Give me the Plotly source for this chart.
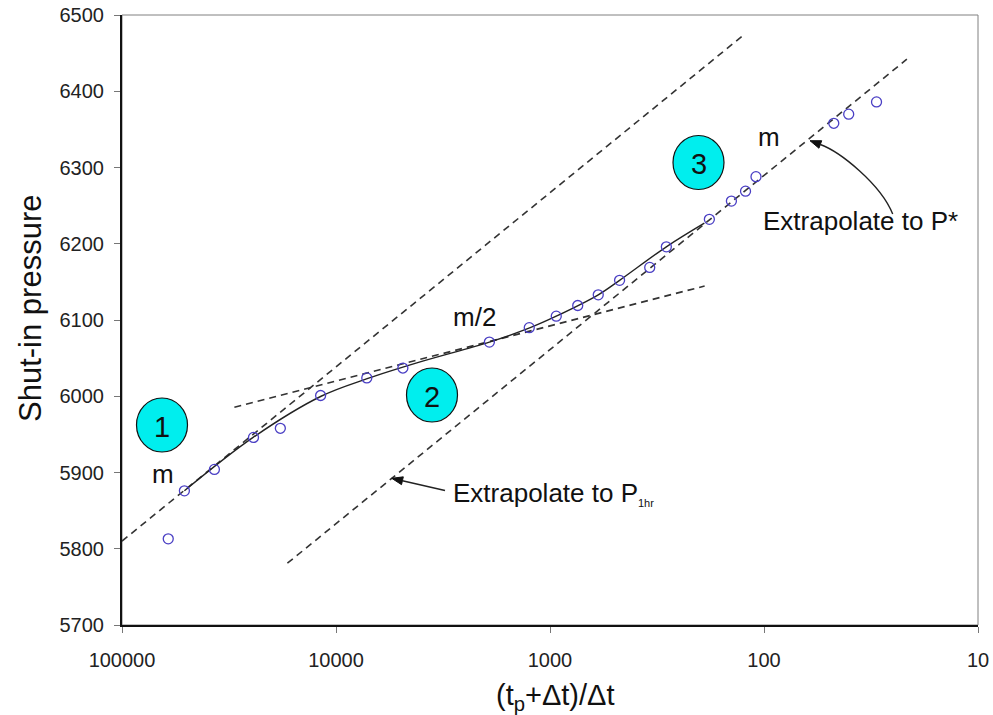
import plotly.graph_objects as go
import math

# ---------------- data ----------------
ratio = [60800, 51100, 37000, 24300, 18200, 11800, 7180, 4870, 1920, 1250, 935, 742,
         595, 473, 342, 286, 180, 142, 122, 109, 47.2, 40.2, 29.8]
pressure = [5813, 5876, 5904, 5946, 5958, 6001, 6024, 6037, 6071, 6090, 6105, 6119,
            6133, 6152, 6169, 6196, 6232, 6256, 6269, 6288, 6358, 6370, 6386]

# smooth fitted curve through the buildup data
curve_x = [51100, 24400, 11740, 7150, 4044, 1920, 1237, 935, 595, 473, 286, 190]
curve_y = [5876, 5946, 6000, 6023, 6045, 6071, 6090, 6105, 6133, 6152, 6196, 6227]

# straight-line extrapolations (dashed)
early_x = [100000, 124.2]
early_y = [5810, 6474]
mhalf_x = [29840, 189.4]
mhalf_y = [5985.5, 6144.6]
late_x = [16870, 21.5]
late_y = [5781, 6442]

x_ticks = [100000, 10000, 1000, 100, 10]
x_tick_text = ["100000", "10000", "1000", "100", "10"]
y_ticks = [5700, 5800, 5900, 6000, 6100, 6200, 6300, 6400, 6500]

# ---------------- layout helpers ----------------
W, H = 993, 715
ML, MR, MT, MB = 122, 15, 15, 90
PW, PH = W - ML - MR, H - MT - MB


def P(px, py):
    return (px - ML) / PW, (H - MB - py) / PH


FONT = "Arial, Liberation Sans, sans-serif"
DASH = "7px,5px"

fig = go.Figure()

for xs, ys in [(early_x, early_y), (mhalf_x, mhalf_y), (late_x, late_y)]:
    fig.add_trace(go.Scatter(x=xs, y=ys, mode="lines",
                             line=dict(color="#333333", width=1.6, dash=DASH),
                             hoverinfo="skip", showlegend=False))

fig.add_trace(go.Scatter(x=curve_x, y=curve_y, mode="lines",
                         line=dict(color="#222222", width=1.4, shape="spline", smoothing=1.0),
                         hoverinfo="skip", showlegend=False))

fig.add_trace(go.Scatter(x=ratio, y=pressure, mode="markers",
                         marker=dict(symbol="circle-open", size=10, color="#4a3fc4",
                                     line=dict(width=1.3, color="#4a3fc4")),
                         showlegend=False))

shapes = []
# frame (top/right gray)
shapes.append(dict(type="rect", xref="paper", yref="paper", x0=0, y0=0, x1=1, y1=1,
                   line=dict(color="#808080", width=1), layer="below"))

# numbered circles
for (cx, cy) in [(162, 425), (432, 395), (698.5, 162.5)]:
    x0, y0 = P(cx - 25.5, cy + 27)
    x1, y1 = P(cx + 25.5, cy - 27)
    shapes.append(dict(type="circle", xref="paper", yref="paper", x0=x0, y0=y0, x1=x1, y1=y1,
                       fillcolor="#00EEEE", line=dict(color="#111111", width=1.2), layer="above"))


def arrowhead(tip, frm, L=11, w=4):
    dx, dy = tip[0] - frm[0], tip[1] - frm[1]
    n = math.hypot(dx, dy)
    ux, uy = dx / n, dy / n
    bx, by = tip[0] - ux * L, tip[1] - uy * L
    c1 = P(bx - uy * w, by + ux * w)
    c2 = P(bx + uy * w, by - ux * w)
    t = P(*tip)
    shapes.append(dict(type="path", xref="paper", yref="paper",
                       path=f"M {t[0]},{t[1]} L {c1[0]},{c1[1]} L {c2[0]},{c2[1]} Z",
                       fillcolor="#111111", line=dict(color="#111111", width=1)))
    return (bx, by)


# curved arrow to P*
tipA = (810, 140.7)
ctrl2 = (840, 151.7)
baseA = arrowhead(tipA, ctrl2)
p0 = P(892.7, 214)
p1 = P(880.7, 184)
p2 = P(*ctrl2)
p3 = P(*baseA)
shapes.append(dict(type="path", xref="paper", yref="paper",
                   path=f"M {p0[0]},{p0[1]} C {p1[0]},{p1[1]} {p2[0]},{p2[1]} {p3[0]},{p3[1]}",
                   line=dict(color="#222222", width=1.4)))

# straight arrow to P1hr
tailB = (445, 490.5)
tipB = (391.7, 478.3)
baseB = arrowhead(tipB, tailB)
a0 = P(*tailB)
a1 = P(*baseB)
shapes.append(dict(type="line", xref="paper", yref="paper", x0=a0[0], y0=a0[1], x1=a1[0], y1=a1[1],
                   line=dict(color="#222222", width=1.4)))

annotations = []


def txt(px, py, text, size=25, **kw):
    x, y = P(px, py)
    annotations.append(dict(x=x, y=y, xref="paper", yref="paper", text=text, showarrow=False,
                            font=dict(family=FONT, size=size, color="#111111"),
                            xanchor="center", yanchor="middle", **kw))


txt(162, 427, "1", size=29)
txt(432, 397, "2", size=29)
txt(698.5, 164, "3", size=29)
txt(163, 474, "m", size=26)
txt(474, 317, "m/2", size=26)
txt(769, 137, "m", size=26)
txt(860, 221, "Extrapolate to P*", size=26)
txt(553, 493, "Extrapolate to P<sub><span style='font-size:11px'>1hr</span></sub>", size=26)

# axis titles
txt(555, 697, "(t<sub>p</sub>+Δt)/Δt", size=29)
txt(30, 309, "Shut-in pressure", size=31, textangle=-90)

fig.update_layout(
    width=W, height=H,
    margin=dict(l=ML, r=MR, t=MT, b=MB, autoexpand=False),
    paper_bgcolor="white", plot_bgcolor="white",
    shapes=shapes, annotations=annotations,
    font=dict(family=FONT, color="#222222"),
    xaxis=dict(type="log", range=[5, 1], tickvals=x_ticks, ticktext=x_tick_text,
               automargin=False,
               showgrid=False, zeroline=False, showline=True, linecolor="#111111", linewidth=2,
               ticks="outside", ticklen=6, tickwidth=1, tickcolor="#777777",
               tickfont=dict(family=FONT, size=20, color="#222222"), ticklabelstandoff=10),
    yaxis=dict(range=[5700, 6500], tickvals=y_ticks, automargin=False,
               showgrid=False, zeroline=False, showline=True, linecolor="#111111", linewidth=2,
               ticks="outside", ticklen=6, tickwidth=1, tickcolor="#777777",
               tickfont=dict(family=FONT, size=20, color="#222222"), ticklabelstandoff=6),
)

fig.write_html("out.html")
